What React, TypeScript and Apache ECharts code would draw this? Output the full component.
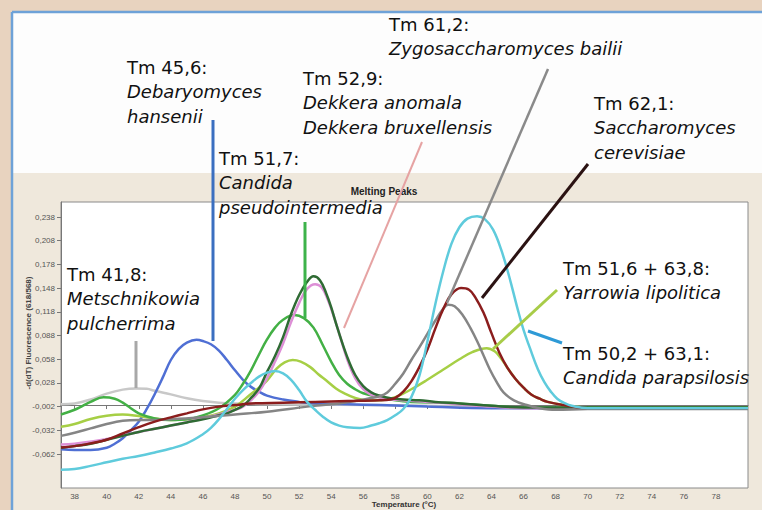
import React, { useEffect, useRef } from "react";
import * as echarts from "echarts";

// ---- tick labels ----
const xTicks = [38, 40, 42, 44, 46, 48, 50, 52, 54, 56, 58, 60, 62, 64, 66, 68, 70, 72, 74, 76, 78];
const yTicks = [-0.062, -0.032, -0.002, 0.028, 0.058, 0.088, 0.118, 0.148, 0.178, 0.208, 0.238];

// ---- melting curves: [temperature °C, -d(F)/dT] ----
const metschnikowia: [number, number][] = [
  [37.15, 0.001], [38, 0.002], [39, 0.007], [40, 0.0145], [41, 0.0195], [41.8, 0.021], [42.5, 0.0205],
  [43, 0.018], [44, 0.0135], [45, 0.0085], [46, 0.005], [47, 0.003], [48, 0.002], [50, 0.001],
  [53, 0.0005], [56, 0.0], [60, -0.001], [64, -0.003], [68, -0.004], [74, -0.004], [80, -0.004],
];
const debaryomyces: [number, number][] = [
  [37.15, -0.056], [38, -0.057], [39, -0.057], [40, -0.054], [40.5, -0.049], [41, -0.042], [41.5, -0.032],
  [42, -0.021], [42.5, -0.005], [43, 0.014], [43.5, 0.035], [44, 0.057], [44.5, 0.071], [45, 0.079],
  [45.6, 0.0825], [46, 0.081], [46.5, 0.077], [47, 0.069], [47.5, 0.057], [48, 0.044], [48.5, 0.032],
  [49, 0.023], [49.5, 0.017], [50, 0.012], [51, 0.007], [52, 0.004], [53, 0.002], [55, 0.001], [57, 0.0],
  [60, -0.002], [64, -0.004], [80, -0.004],
];
const pseudointermedia: [number, number][] = [
  [37.15, -0.012], [38, -0.006], [38.5, -0.001], [39, 0.004], [39.8, 0.0098], [40.5, 0.008], [41, 0.003],
  [41.5, -0.004], [42, -0.0105], [43, -0.017], [44, -0.019], [45, -0.018], [46, -0.013], [47, -0.004],
  [48, 0.013], [48.5, 0.027], [49, 0.044], [49.5, 0.064], [50, 0.083], [50.5, 0.098], [51, 0.108],
  [51.7, 0.114], [52.3, 0.11], [52.9, 0.098], [53.5, 0.075], [54, 0.055], [54.5, 0.038], [55, 0.027],
  [55.5, 0.02], [56, 0.015], [57, 0.01], [58, 0.006], [59, 0.004], [61, 0.003], [62, 0.002], [64, -0.001],
  [66, -0.003], [80, -0.003],
];
const anomala: [number, number][] = [
  [37.15, -0.05], [38, -0.049], [40, -0.043], [42, -0.034], [44, -0.026], [46, -0.017], [47, -0.012],
  [48, -0.006], [48.5, -0.002], [49, 0.006], [49.5, 0.017], [50, 0.034], [50.5, 0.055], [51, 0.078],
  [51.5, 0.105], [52, 0.129], [52.5, 0.147], [53, 0.153], [53.4, 0.149], [53.8, 0.133], [54.2, 0.11],
  [54.6, 0.084], [55, 0.058], [55.5, 0.034], [56, 0.02], [56.5, 0.013], [57.5, 0.008], [58.5, 0.006],
  [60, 0.004], [62, 0.001], [64, -0.002], [66, -0.004], [80, -0.004],
];
const bruxellensis: [number, number][] = [
  [37.15, -0.054], [38, -0.052], [39, -0.049], [40, -0.044], [41, -0.039], [42, -0.034], [43, -0.03],
  [44, -0.026], [45, -0.022], [46, -0.018], [47, -0.013], [47.5, -0.0105], [48, -0.006], [48.5, -0.001],
  [49, 0.009], [49.5, 0.021], [50, 0.042], [50.5, 0.062], [51, 0.086], [51.5, 0.115], [52, 0.139],
  [52.5, 0.156], [52.9, 0.163], [53.3, 0.158], [53.7, 0.141], [54, 0.124], [54.4, 0.097], [55, 0.061],
  [55.5, 0.038], [56, 0.024], [56.5, 0.016], [57, 0.012], [57.7, 0.0085], [58.5, 0.007], [59.5, 0.006],
  [60.5, 0.004], [62, 0.002], [64, -0.001], [66, -0.003], [80, -0.003],
];
const bailii: [number, number][] = [
  [37.15, -0.039], [38, -0.035], [39, -0.0295], [40, -0.024], [41, -0.02], [42, -0.019], [43, -0.019],
  [44, -0.018], [46, -0.0155], [48, -0.012], [50, -0.0085], [52.5, -0.002], [53.5, 0.0], [54.5, 0.002],
  [55.5, 0.005], [56.5, 0.009], [57, 0.011], [57.5, 0.016], [58, 0.027], [58.5, 0.04], [59, 0.057],
  [59.5, 0.073], [60, 0.09], [60.5, 0.107], [61, 0.122], [61.3, 0.127], [61.7, 0.125], [62.2, 0.114],
  [62.7, 0.097], [63.1, 0.081], [63.5, 0.063], [63.9, 0.045], [64.3, 0.03], [64.75, 0.016], [65.4, 0.006],
  [66.2, 0.0], [67, -0.004], [68, -0.006], [70, -0.005], [80, -0.005],
];
const cerevisiae: [number, number][] = [
  [37.15, -0.0536], [38, -0.052], [39, -0.0485], [40, -0.044], [41, -0.036], [42, -0.028], [43, -0.021],
  [44, -0.0156], [45, -0.0105], [46, -0.0055], [47, -0.002], [48, 0.0], [49, 0.002], [51, 0.003],
  [53, 0.004], [55, 0.005], [57, 0.006], [57.7, 0.007], [58, 0.009], [58.5, 0.017], [59, 0.03],
  [59.5, 0.048], [60, 0.07], [60.5, 0.097], [61, 0.122], [61.5, 0.14], [62.1, 0.148], [62.6, 0.146],
  [63, 0.136], [63.5, 0.117], [64, 0.091], [64.5, 0.066], [65, 0.047], [65.5, 0.033], [66, 0.022],
  [66.5, 0.013], [67, 0.008], [67.5, 0.004], [68.5, 0.0], [70, -0.004], [80, -0.004],
];
const yarrowia: [number, number][] = [
  [37.15, -0.0275], [38, -0.024], [39, -0.0176], [40, -0.0135], [41, -0.012], [42, -0.014], [43, -0.017],
  [44, -0.019], [45, -0.018], [46, -0.0155], [47, -0.0105], [48, -0.002], [49, 0.014], [49.5, 0.022],
  [50, 0.031], [50.6, 0.046], [51.1, 0.054], [51.6, 0.057], [52.1, 0.055], [52.7, 0.048], [53.2, 0.039],
  [53.7, 0.031], [54.3, 0.021], [54.8, 0.015], [55.5, 0.009], [56.2, 0.006], [57, 0.006], [58, 0.01],
  [59, 0.02], [60, 0.032], [61, 0.045], [62, 0.058], [62.8, 0.067], [63.7, 0.072], [64.2, 0.068],
  [64.6, 0.059], [65, 0.047], [65.5, 0.033], [66, 0.022], [66.5, 0.013], [67, 0.008], [67.5, 0.004],
  [68.5, 0.0], [70, -0.003], [80, -0.003],
];
const parapsilosis: [number, number][] = [
  [37.15, -0.082], [38, -0.081], [39, -0.077], [40, -0.0725], [41, -0.068], [42, -0.0645], [43, -0.06],
  [44, -0.055], [45, -0.0485], [46, -0.037], [46.5, -0.029], [47, -0.018], [47.5, -0.005], [48, 0.008],
  [48.5, 0.019], [49, 0.028], [49.5, 0.036], [50, 0.041], [50.5, 0.043], [51, 0.04], [51.5, 0.032],
  [52, 0.019], [52.5, 0.004], [53, -0.006], [53.5, -0.015], [54, -0.022], [54.5, -0.026], [55, -0.028],
  [55.8, -0.029], [56.5, -0.026], [57, -0.023], [57.5, -0.019], [58, -0.013], [58.5, -0.005], [59, 0.01],
  [59.5, 0.037], [60, 0.08], [60.5, 0.128], [61, 0.17], [61.5, 0.204], [62, 0.225], [62.5, 0.236],
  [63.1, 0.239], [63.6, 0.235], [64.1, 0.222], [64.6, 0.197], [65.1, 0.163], [65.6, 0.124], [66, 0.095],
  [66.4, 0.072], [66.9, 0.045], [67.3, 0.029], [67.7, 0.017], [68.1, 0.008], [68.6, 0.002], [69, -0.001],
  [70, -0.004], [80, -0.004],
];

const curves = [
  { name: "Metschnikowia pulcherrima", data: metschnikowia, color: "#c8c8c8" },
  { name: "Debaryomyces hansenii", data: debaryomyces, color: "#4f6fd4" },
  { name: "Yarrowia lipolitica", data: yarrowia, color: "#a6cf45" },
  { name: "Candida pseudointermedia", data: pseudointermedia, color: "#43b045" },
  { name: "Dekkera anomala", data: anomala, color: "#dd8fd6" },
  { name: "Dekkera bruxellensis", data: bruxellensis, color: "#2f6b34" },
  { name: "Zygosaccharomyces bailii", data: bailii, color: "#858585" },
  { name: "Saccharomyces cerevisiae", data: cerevisiae, color: "#8b1d1d" },
  { name: "Candida parapsilosis", data: parapsilosis, color: "#5fcbdc" },
];

// ---- annotation texts ----
const annotations = [
  { lines: ["Tm 61,2:", "Zygosaccharomyces bailii"], x: 389, y: 24 },
  { lines: ["Tm 45,6:", "Debaryomyces", "hansenii"], x: 127, y: 67 },
  { lines: ["Tm 52,9:", "Dekkera anomala", "Dekkera bruxellensis"], x: 303, y: 78 },
  { lines: ["Tm 62,1:", "Saccharomyces", "cerevisiae"], x: 594, y: 103 },
  { lines: ["Tm 51,7:", "Candida", "pseudointermedia"], x: 219, y: 158 },
  { lines: ["Tm 41,8:", "Metschnikowia", "pulcherrima"], x: 67, y: 274 },
  { lines: ["Tm 51,6 + 63,8:", "Yarrowia lipolitica"], x: 563, y: 268 },
  { lines: ["Tm 50,2 + 63,1:", "Candida parapsilosis"], x: 563, y: 353 },
];

const leaders = [
  { x1: 136, y1: 341, x2: 136, y2: 388, color: "#a8a8a8", w: 3 },
  { x1: 213, y1: 120, x2: 213, y2: 341, color: "#3b6fc0", w: 3 },
  { x1: 305, y1: 222, x2: 305, y2: 318, color: "#3db34a", w: 3 },
  { x1: 422, y1: 142, x2: 344, y2: 328, color: "#e6a3a3", w: 2 },
  { x1: 548, y1: 69, x2: 447, y2: 303, color: "#8a8a8a", w: 2.5 },
  { x1: 588, y1: 164, x2: 482, y2: 298, color: "#2b1212", w: 3 },
  { x1: 557, y1: 290, x2: 493, y2: 349, color: "#a8cc48", w: 3 },
  { x1: 528, y1: 331, x2: 562, y2: 343, color: "#2e9ad6", w: 3 },
];

export default function App() {
  const ref = useRef<HTMLDivElement>(null);
  useEffect(() => {
    const chart = echarts.init(ref.current!, null, { renderer: "svg" });
    const graphics: any[] = [
      { type: "rect", z: -10, shape: { x: 0, y: 0, width: 762, height: 510 }, style: { fill: "#e8d3bf" } },
      { type: "rect", z: -9, shape: { x: 12, y: 12, width: 750, height: 161 }, style: { fill: "#fdfdfd" } },
      { type: "rect", z: -9, shape: { x: 12, y: 173, width: 750, height: 337 }, style: { fill: "#efe8dc" } },
      { type: "line", z: -8, shape: { x1: 12, y1: 12, x2: 762, y2: 12 }, style: { stroke: "#6ea2d8", lineWidth: 2.5 } },
      { type: "line", z: -8, shape: { x1: 12, y1: 12, x2: 12, y2: 510 }, style: { stroke: "#6ea2d8", lineWidth: 2.5 } },
      {
        type: "text", z: 50, x: 384, y: 191,
        style: { text: "Melting Peaks", font: "bold 10px 'Liberation Sans', Arial", fill: "#222", align: "center", verticalAlign: "middle" },
      },
      {
        type: "text", z: 50, x: 28, y: 333, rotation: Math.PI / 2,
        style: { text: "-d(dT) Fluorescence (618/568)", font: "bold 8px 'Liberation Sans', Arial", fill: "#444", align: "center", verticalAlign: "middle" },
      },
      {
        type: "text", z: 50, x: 404, y: 504,
        style: { text: "Temperature (°C)", font: "bold 8px 'Liberation Sans', Arial", fill: "#333", align: "center", verticalAlign: "middle" },
      },
    ];
    leaders.forEach((l) => {
      graphics.push({
        type: "line", z: 90,
        shape: { x1: l.x1, y1: l.y1, x2: l.x2, y2: l.y2 },
        style: { stroke: l.color, lineWidth: l.w },
      });
    });
    annotations.forEach((a) => {
      a.lines.forEach((t, i) => {
        graphics.push({
          type: "text", z: 100, x: a.x, y: a.y + i * 24.5,
          style: {
            text: t,
            font: (i === 0 ? "" : "italic ") + "18px 'DejaVu Sans'",
            fill: "#111", align: "left", verticalAlign: "middle",
          },
        });
      });
    });

    chart.setOption({
      animation: false,
      backgroundColor: "#e8d3bf",
      grid: {
        left: 61, top: 202, width: 687, height: 286, show: true, backgroundColor: "#ffffff",
        borderColor: "#8a8a8a", borderWidth: 1, containLabel: false, outerBoundsMode: "none",
      },
      xAxis: {
        type: "value", min: 37.15, max: 80,
        splitLine: { show: false },
        axisLine: { show: true, lineStyle: { color: "#777" } },
        axisTick: { show: true, customValues: xTicks, length: 4, lineStyle: { color: "#777" } },
        axisLabel: { customValues: xTicks, fontSize: 8, color: "#555", margin: 4, fontFamily: "'Liberation Sans', Arial" },
      },
      yAxis: {
        type: "value", min: -0.105, max: 0.257,
        splitLine: { show: false },
        axisLine: { show: true, lineStyle: { color: "#777" } },
        axisTick: { show: true, customValues: yTicks, length: 4, lineStyle: { color: "#777" } },
        axisLabel: {
          customValues: yTicks, fontSize: 8, color: "#555", margin: 6, fontFamily: "'Liberation Sans', Arial",
          formatter: (v: number) => v.toFixed(3).replace(".", ","),
        },
      },
      graphic: graphics,
      series: curves.map((c, i) => ({
        type: "line", name: c.name, data: c.data, smooth: 0.4, showSymbol: false,
        lineStyle: { color: c.color, width: 2.5 }, itemStyle: { color: c.color }, z: 2 + i * 0.01,
      })),
    });
    return () => chart.dispose();
  }, []);
  return <div ref={ref} style={{ position: "absolute", left: 0, top: 0, width: 762, height: 510 }} />;
}
